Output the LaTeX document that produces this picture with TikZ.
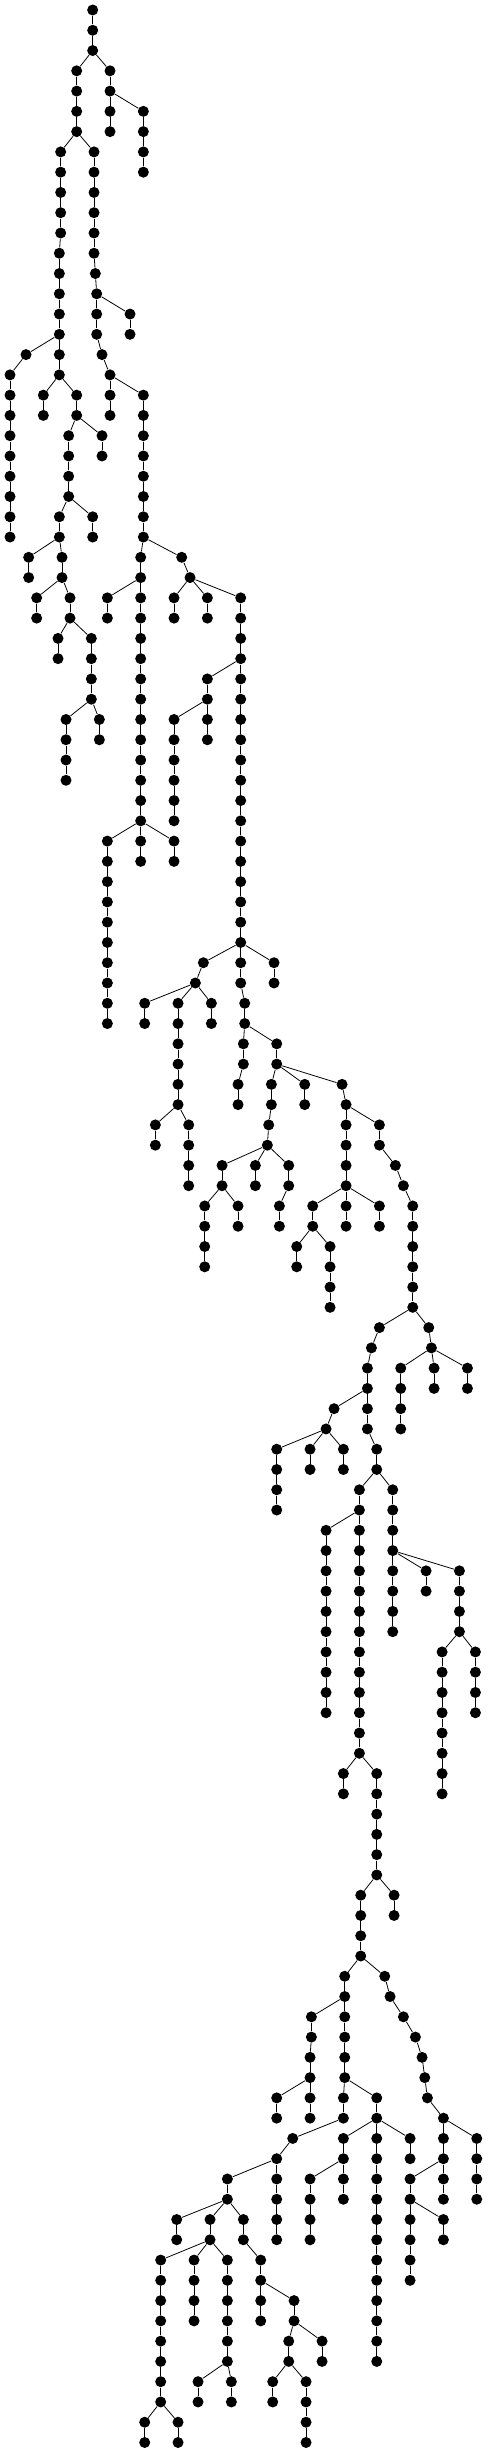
\documentclass[tikz,border=0pt]{standalone}
\usepackage{tikz}

\tikzset{
  vert/.style={circle,fill=black,inner sep=0pt,minimum size=0.22cm},
  branch/.style={line width=0.45pt}
}

\begin{document}
\begin{tikzpicture}[x=0.0066667cm,y=-0.4054cm]
  \useasboundingbox (0,-0.4933) rectangle (1461,120.47);
  \node[vert] (n278-0) at (278,0) {};
  \foreach \x/\l/\p in {
    278/1/278, 278/2/278,
    230/3/278, 330/3/278,
    230/4/230, 330/4/330,
    230/5/230, 330/5/330, 430/5/330,
    230/6/230, 330/6/330, 430/6/430,
    430/7/430, 430/8/430,
    182/7/230, 282/7/230,
    182/8/182, 282/8/282, 182/9/182, 282/9/282, 182/10/182, 282/10/282,
    182/11/182, 178/12/182, 178/13/178, 178/14/178, 178/15/178, 178/16/178,
    78/17/178, 178/17/178,
    30/18/78, 30/19/30, 30/20/30, 30/21/30, 30/22/30, 30/23/30, 30/24/30, 30/25/30, 30/26/30,
    178/18/178, 130/19/178, 230/19/178, 130/20/130, 230/20/230,
    206/21/230, 306/21/230, 306/22/306,
    206/22/206, 206/23/206, 206/24/206,
    178/25/206, 278/25/206, 278/26/278, 178/26/178,
    86/27/178, 186/27/178, 86/28/86, 186/28/186,
    110/29/186, 210/29/186, 110/30/110, 210/30/210,
    174/31/210, 274/31/210, 174/32/174,
    274/32/274, 274/33/274, 274/34/274,
    198/35/274, 298/35/274, 298/36/298,
    198/36/198, 198/37/198, 198/38/198,
    282/11/282, 282/12/282, 286/13/282, 290/14/286,
    290/15/290, 390/15/290, 390/16/390,
    290/16/290, 306/17/290, 330/18/306,
    330/19/330, 430/19/330, 330/20/330, 430/20/430,
    430/21/430, 430/22/430, 430/23/430, 430/24/430, 430/25/430, 430/26/430,
    422/27/430, 545/27/430,
    422/28/422, 570/28/545,
    322/29/422, 422/29/422, 522/29/570, 622/29/570, 722/29/570,
    322/30/322, 422/30/422, 522/30/522, 622/30/622, 722/30/722,
    422/31/422, 422/32/422, 422/33/422, 422/34/422, 422/35/422,
    422/36/422, 422/37/422, 422/38/422, 422/39/422, 422/40/422,
    722/31/722, 722/32/722, 622/33/722, 722/33/722,
    622/34/622, 522/35/622, 622/35/622, 622/36/622,
    522/36/522, 522/37/522, 522/38/522, 522/39/522, 522/40/522,
    722/34/722, 722/35/722, 722/36/722, 722/37/722, 722/38/722, 722/39/722, 722/40/722,
    722/41/722, 722/42/722, 722/43/722, 722/44/722, 722/45/722, 722/46/722,
    322/41/422, 422/41/422, 522/41/422, 422/42/422, 522/42/522,
    322/42/322, 322/43/322, 322/44/322, 322/45/322, 322/46/322,
    322/47/322, 322/48/322, 322/49/322, 322/50/322,
    610/47/722, 722/47/722, 822/47/722, 822/48/822,
    586/48/610, 434/49/586, 534/49/586, 634/49/586,
    434/50/434, 534/50/534, 634/50/634,
    534/51/534, 534/52/534, 534/53/534, 534/54/534,
    466/55/534, 566/55/534, 466/56/466,
    566/56/566, 566/57/566, 566/58/566,
    722/48/722, 734/49/722, 734/50/734,
    730/51/734, 830/51/734, 730/52/730, 714/53/730, 714/54/714,
    830/52/830, 814/53/830, 914/53/830, 1026/53/830, 914/54/914,
    814/54/814, 806/55/814, 802/56/806,
    666/57/802, 766/57/802, 866/57/802,
    766/58/766, 866/58/866, 838/59/866, 838/60/838,
    666/58/666, 614/59/666, 714/59/666, 714/60/714,
    614/60/614, 614/61/614, 614/62/614,
    1038/54/1026, 1038/55/1038, 1138/55/1038,
    1138/56/1138, 1186/57/1138, 1210/58/1186, 1238/59/1210, 1238/60/1238,
    1238/61/1238, 1238/62/1238, 1238/63/1238, 1238/64/1238,
    1038/56/1038, 1038/57/1038, 1038/58/1038,
    938/59/1038, 1038/59/1038, 1138/59/1038,
    1038/60/1038, 1138/60/1138, 938/60/938,
    890/61/938, 990/61/938, 890/62/890,
    990/62/990, 990/63/990, 990/64/990,
    1138/65/1238, 1286/65/1238, 1294/66/1286,
    1202/67/1294, 1302/67/1294, 1402/67/1294,
    1202/68/1202, 1202/69/1202, 1202/70/1202,
    1302/68/1302, 1402/68/1402,
    1114/66/1138, 1102/67/1114, 1102/68/1102,
    1002/69/1102, 1102/69/1102, 978/70/1002,
    830/71/978, 930/71/978, 1030/71/978,
    830/72/830, 830/73/830, 830/74/830, 930/72/930, 1030/72/1030,
    1102/70/1102, 1130/71/1102, 1130/72/1130,
    1078/73/1130, 1178/73/1130, 1078/74/1078,
    978/75/1078, 1078/75/1078,
    978/76/978, 978/77/978, 978/78/978, 978/79/978, 978/80/978,
    978/81/978, 978/82/978, 978/83/978, 978/84/978,
    1078/76/1078, 1078/77/1078, 1078/78/1078, 1078/79/1078, 1078/80/1078,
    1078/81/1078, 1078/82/1078, 1078/83/1078, 1078/84/1078, 1078/85/1078, 1078/86/1078,
    1178/74/1178, 1178/75/1178, 1178/76/1178,
    1178/77/1178, 1278/77/1178, 1378/77/1178,
    1178/78/1178, 1178/79/1178, 1178/80/1178,
    1278/78/1278,
    1378/78/1378, 1378/79/1378, 1378/80/1378,
    1326/81/1378, 1426/81/1378,
    1326/82/1326, 1326/83/1326, 1326/84/1326, 1326/85/1326,
    1326/86/1326, 1326/87/1326, 1326/88/1326,
    1426/82/1426, 1426/83/1426, 1426/84/1426,
    1030/87/1078, 1130/87/1078, 1030/88/1030,
    1130/88/1130, 1130/89/1130, 1130/90/1130, 1130/91/1130, 1130/92/1130,
    1082/93/1130, 1182/93/1130, 1182/94/1182,
    1082/94/1082, 1082/95/1082, 1082/96/1082,
    1034/97/1082, 1154/97/1082, 1034/98/1034,
    934/99/1034, 1034/99/1034, 934/100/934, 930/101/934, 930/102/930,
    830/103/930, 930/103/930, 830/104/830, 930/104/930,
    1034/100/1034, 1034/101/1034, 1034/102/1034,
    1030/103/1034, 1130/103/1034, 1030/104/1030,
    878/105/1030, 830/106/878,
    682/107/830, 830/107/830, 830/108/830, 830/109/830, 830/110/830,
    682/108/682, 530/109/682, 630/109/682, 730/109/682,
    530/110/530, 630/110/630,
    482/111/630, 582/111/630, 682/111/630,
    730/110/730, 782/111/730,
    482/112/482, 482/113/482, 482/114/482, 482/115/482,
    482/116/482, 482/117/482, 482/118/482,
    434/119/482, 534/119/482, 434/120/434, 534/120/534,
    582/112/582, 582/113/582, 582/114/582,
    682/112/682, 682/113/682, 682/114/682, 682/115/682, 682/116/682,
    594/117/682, 694/117/682, 594/118/594, 694/118/694,
    782/112/782, 782/113/782, 882/113/782, 782/114/782,
    882/114/882, 866/115/882, 966/115/882, 966/116/966, 866/116/866,
    818/117/866, 918/117/866, 818/118/818,
    918/118/918, 918/119/918, 918/120/918,
    1130/104/1130, 1030/105/1130, 1130/105/1130, 1230/105/1130,
    1230/106/1230, 1030/106/1030,
    930/107/1030, 1030/107/1030, 1030/108/1030,
    930/108/930, 930/109/930, 930/110/930,
    1130/106/1130, 1130/107/1130, 1130/108/1130, 1130/109/1130, 1130/110/1130,
    1130/111/1130, 1130/112/1130, 1130/113/1130, 1130/114/1130, 1130/115/1130, 1130/116/1130,
    1170/98/1154, 1210/99/1170, 1246/100/1210, 1266/101/1246,
    1274/102/1266, 1282/103/1274, 1330/104/1282,
    1330/105/1330, 1430/105/1330,
    1430/106/1430, 1430/107/1430, 1430/108/1430,
    1330/106/1330, 1230/107/1330, 1330/107/1330, 1330/108/1330,
    1230/108/1230, 1230/109/1230, 1330/109/1230, 1330/110/1330,
    1230/110/1230, 1230/111/1230, 1230/112/1230}
  {
    \pgfmathtruncatemacro\q{\l-1}
    \node[vert] (n\x-\l) at (\x,\l) {};
    \draw[branch] (n\p-\q) -- (n\x-\l);
  }
\end{tikzpicture}
\end{document}
